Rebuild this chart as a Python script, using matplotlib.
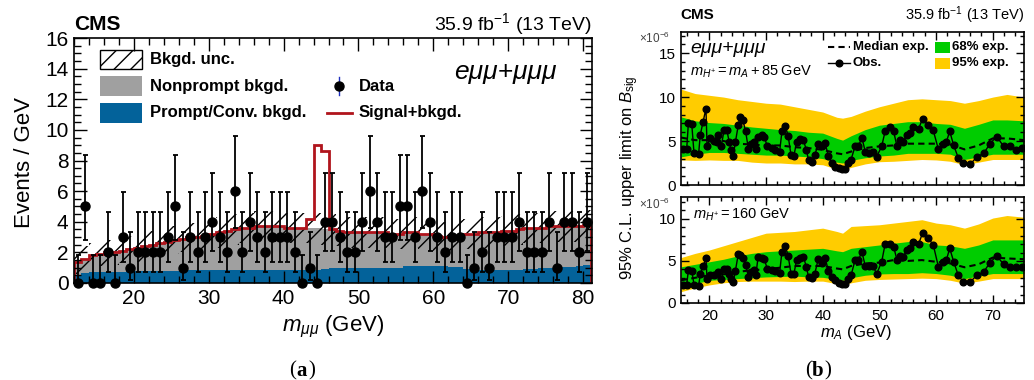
import numpy as np
import matplotlib
matplotlib.use('Agg')
import matplotlib.pyplot as plt
from matplotlib.patches import Rectangle
from matplotlib.lines import Line2D
from matplotlib.ticker import MultipleLocator

plt.rcParams['font.family'] = ['Liberation Sans', 'DejaVu Sans']
plt.rcParams['mathtext.fontset'] = 'custom'
plt.rcParams['mathtext.rm'] = 'Liberation Sans'
plt.rcParams['mathtext.it'] = 'Liberation Sans:italic'
plt.rcParams['mathtext.bf'] = 'Liberation Sans:bold'
plt.rcParams['hatch.linewidth'] = 1.0

###############################################################################
# Data (a): 1 GeV bins from 12 to 81
###############################################################################
bin_lo = list(range(12, 81))
bin_edges = bin_lo + [81]
prompt = [0.55, 0.65, 0.75, 0.75, 0.75, 0.75, 0.75, 0.78, 0.8, 0.8,
          0.8, 0.8, 0.8, 0.8, 0.8, 0.82, 0.82, 0.85, 0.85, 0.85,
          0.85, 0.85, 0.85, 0.85, 0.85, 0.85, 0.85, 0.85, 0.82, 0.82,
          0.85, 0.85, 0.85, 0.9, 0.95, 0.95, 0.95, 0.95, 0.95, 1.0,
          1.0, 1.0, 1.0, 1.0, 1.1, 1.1, 1.1, 1.1, 1.1, 1.1,
          1.05, 1.05, 0.9, 0.88, 0.85, 0.85, 0.85, 0.85, 0.88, 0.88,
          0.9, 0.9, 0.95, 1.0, 1.05, 1.05, 1.05, 1.1, 1.2]
bkg_total = [1.4, 1.6, 1.8, 1.9, 2.0, 2.0, 2.1, 2.2, 2.3, 2.4,
             2.5, 2.6, 2.7, 2.8, 2.9, 3.0, 3.0, 3.1, 3.2, 3.3,
             3.4, 3.5, 3.6, 3.6, 3.7, 3.7, 3.7, 3.7, 3.6, 3.6,
             3.6, 3.6, 3.6, 3.5, 3.5, 3.4, 3.3, 3.3, 3.3, 3.3,
             3.3, 3.3, 3.2, 3.2, 3.3, 3.3, 3.2, 3.2, 3.1, 3.0,
             3.0, 3.1, 3.2, 3.2, 3.3, 3.3, 3.3, 3.4, 3.4, 3.5,
             3.6, 3.6, 3.6, 3.7, 3.7, 3.7, 3.7, 3.7, 3.8]
bkg_unc = [0.8, 0.8, 0.8, 0.8, 0.8, 0.8, 0.8, 0.9, 0.9, 0.9,
           0.9, 0.9, 0.9, 0.9, 0.9, 0.9, 0.9, 1.0, 1.0, 1.0,
           1.0, 1.0, 1.0, 1.0, 1.0, 1.0, 1.0, 1.0, 1.0, 1.0,
           1.0, 1.0, 1.0, 1.0, 1.0, 1.0, 1.0, 1.0, 1.0, 1.0,
           1.0, 1.0, 1.0, 1.0, 1.0, 1.0, 1.0, 1.0, 1.0, 1.0,
           1.0, 1.0, 1.0, 1.0, 1.0, 1.0, 1.0, 1.0, 1.0, 1.0,
           1.0, 1.0, 1.0, 1.0, 1.0, 1.0, 1.0, 1.0, 1.0]
signal = [0.0] * 31 + [0.6, 5.4, 5.1] + [0.0] * 35
data_counts = [0, 5, 0, 0, 2, 0, 3, 1, 2, 2,
               2, 2, 3, 5, 1, 3, 2, 3, 4, 3,
               2, 6, 2, 4, 3, 2, 3, 3, 3, 2,
               0, 1, 0, 4, 4, 3, 2, 2, 4, 6,
               4, 3, 3, 5, 5, 3, 6, 4, 3, 2,
               3, 3, 0, 1, 2, 1, 3, 3, 3, 4,
               2, 2, 2, 4, 1, 4, 4, 2, 4]
# Garwood 68% intervals by observed count
garwood_lo = {0: 0.0, 1: 0.17, 2: 0.71, 3: 1.37, 4: 2.09, 5: 2.84, 6: 3.62}
garwood_hi = {0: 1.84, 1: 3.30, 2: 4.64, 3: 5.92, 4: 7.16, 5: 8.38, 6: 9.58}

###############################################################################
# Data (b)
###############################################################################
m_obs = [15.4, 16.0, 16.3, 16.9, 17.3, 18.1, 18.4, 18.9, 19.4, 19.6,
         20.1, 20.8, 21.3, 21.6, 22.1, 22.6, 23.1, 23.5, 23.8, 24.2,
         24.6, 25.1, 25.4, 25.9, 26.4, 26.9, 27.4, 27.8, 28.2, 28.6,
         29.2, 29.7, 30.2, 31.0, 31.6, 32.4, 32.8, 33.4, 33.9, 34.4,
         34.9, 35.4, 36.0, 36.6, 37.1, 37.5, 38.1, 38.6, 39.2, 39.8,
         40.4, 41.0, 41.6, 42.2, 42.8, 43.4, 43.9, 44.5, 45.0, 45.7,
         46.3, 46.9, 47.5, 48.1, 48.9, 49.5, 50.4, 51.0, 51.8, 52.5,
         53.1, 53.6, 54.2, 54.8, 55.4, 56.0, 56.9, 57.6, 58.6, 59.5,
         60.4, 61.2, 61.8, 62.4, 63.1, 63.9, 64.8, 66.0, 67.2, 68.4,
         69.5, 70.7, 71.9, 73.1, 74.1, 75.1]
obs_top = [4.05, 4.05, 7.0, 6.9, 3.6, 3.5, 5.7, 7.2, 8.7, 4.4,
           5.3, 5.0, 4.9, 5.7, 4.4, 6.25, 6.2, 4.9, 4.0, 3.3,
           4.9, 6.8, 7.75, 7.4, 6.1, 4.05, 4.7, 4.9, 4.05, 5.5,
           5.7, 5.5, 4.4, 4.2, 4.0, 3.8, 6.1, 6.7, 5.6, 3.4,
           3.3, 4.9, 5.2, 5.1, 4.0, 2.85, 2.65, 3.4, 4.7, 4.4,
           4.8, 3.3, 2.5, 2.1, 1.9, 1.8, 1.8, 2.5, 2.9, 4.4,
           4.4, 5.4, 3.8, 3.6, 3.8, 3.2, 4.4, 6.1, 6.55, 6.1,
           4.4, 5.1, 4.9, 5.7, 5.9, 6.6, 6.4, 7.5, 6.8, 6.2,
           4.05, 4.7, 4.9, 6.1, 4.5, 3.1, 2.5, 2.35, 3.2, 3.6,
           4.7, 5.5, 4.4, 4.4, 4.0, 4.2]
obs_bot = [2.15, 2.15, 3.9, 3.85, 2.15, 2.0, 3.45, 4.4, 5.3, 2.8,
           3.3, 3.3, 3.4, 3.7, 2.8, 4.1, 4.0, 3.5, 2.9, 2.5,
           3.85, 5.8, 5.7, 5.3, 4.5, 3.1, 3.7, 3.9, 3.3, 5.5,
           5.4, 5.2, 4.1, 3.9, 3.85, 3.6, 6.1, 6.8, 5.6, 3.5,
           3.45, 5.1, 5.4, 5.5, 4.3, 3.1, 3.0, 3.5, 5.2, 4.8,
           5.4, 3.85, 3.1, 2.7, 2.35, 2.25, 2.25, 2.8, 3.3, 5.1,
           5.1, 6.1, 4.4, 4.4, 4.4, 3.45, 4.9, 7.0, 7.0, 6.7,
           5.1, 5.6, 5.5, 6.3, 6.5, 7.2, 7.0, 8.3, 7.7, 6.9,
           4.3, 4.9, 5.1, 6.5, 4.9, 3.3, 2.5, 2.5, 3.3, 3.7,
           4.8, 5.6, 4.6, 4.3, 4.25, 4.3]
m_band = [15, 17.5, 20, 22.5, 25, 27.5, 30, 32.5, 35, 37.5, 40, 42.5, 43.5,
          45, 47.5, 50, 52.5, 55, 57.5, 60, 62.5, 65, 67.5, 70, 72.5, 75.5]
exp_top = [5.4, 5.1, 5.1, 5.0, 4.7, 4.6, 4.5, 4.5, 4.3, 4.2, 4.0, 3.6, 3.5,
           3.8, 4.2, 4.4, 4.5, 4.7, 4.7, 4.7, 4.6, 4.05, 4.5, 5.3, 5.3, 5.1]
s1_hi_top = [7.75, 7.3, 7.1, 7.0, 6.8, 6.6, 6.45, 6.3, 6.2, 6.0, 5.9, 5.3, 5.1,
             5.6, 6.3, 6.8, 7.0, 7.2, 7.2, 7.0, 6.9, 6.45, 6.9, 7.4, 7.4, 7.3]
s1_lo_top = [3.2, 3.5, 3.7, 3.7, 3.6, 3.5, 3.4, 3.4, 3.3, 3.2, 3.0, 2.6, 2.5,
             2.8, 3.1, 3.3, 3.4, 3.6, 3.6, 3.6, 3.5, 2.9, 3.2, 3.5, 3.5, 3.5]
s2_hi_top = [10.9, 10.4, 10.2, 10.0, 9.7, 9.5, 9.3, 9.2, 8.9, 8.6, 8.3, 7.7, 7.6,
             7.8, 8.4, 8.9, 9.3, 9.7, 9.8, 9.7, 9.6, 9.3, 9.6, 10.0, 10.3, 10.0]
s2_lo_top = [2.85, 2.8, 2.85, 2.8, 2.8, 2.6, 2.5, 2.5, 2.4, 2.4, 2.3, 1.8, 1.7,
             2.0, 2.4, 2.65, 2.7, 2.8, 2.9, 2.85, 2.7, 2.3, 2.6, 2.9, 2.9, 2.9]
exp_bot = [2.7, 3.0, 3.3, 3.4, 3.7, 3.9, 4.0, 4.2, 4.4, 4.4, 4.4, 4.1, 4.0,
           4.4, 4.7, 4.8, 5.1, 5.0, 5.1, 4.9, 4.7, 4.25, 4.6, 5.4, 5.3, 5.2]
s1_hi_bot = [4.3, 4.6, 4.9, 5.2, 5.6, 5.9, 6.1, 6.2, 6.3, 6.4, 6.5, 6.2, 6.1,
             6.5, 6.7, 6.9, 7.1, 7.3, 7.3, 6.9, 6.8, 6.5, 6.9, 7.5, 7.5, 7.5]
s1_lo_bot = [1.85, 2.3, 2.7, 2.8, 2.9, 3.0, 3.1, 3.15, 3.2, 3.1, 3.05, 2.8, 2.7,
             3.0, 3.3, 3.45, 3.5, 3.5, 3.6, 3.5, 3.3, 2.9, 3.2, 3.5, 3.5, 3.5]
s2_hi_bot = [5.4, 5.9, 6.3, 6.8, 7.3, 7.8, 8.3, 8.4, 8.5, 8.7, 8.9, 8.5, 8.3,
             9.1, 9.2, 9.3, 9.5, 9.7, 9.9, 9.5, 9.3, 8.9, 9.4, 10.1, 10.4, 10.2]
s2_lo_bot = [1.35, 1.8, 2.15, 2.4, 2.55, 2.6, 2.6, 2.6, 2.55, 2.6, 2.6, 2.3, 2.15,
             2.4, 2.7, 2.8, 2.85, 2.9, 2.95, 2.9, 2.7, 2.35, 2.6, 2.9, 2.9, 2.9]

###############################################################################
# Style
###############################################################################
C_BLUE, C_GRAY, C_RED = '#03629a', '#a0a0a0', '#b0141c'
C_GREEN, C_YELLOW = '#00cc00', '#ffcc00'

fig = plt.figure(figsize=(10.34, 3.8), dpi=100)


def style_axes(ax, fs, major_len, minor_len):
    ax.tick_params(which='both', direction='in', top=True, right=True,
                   labelsize=fs, width=1.0, pad=4)
    ax.tick_params(which='major', length=major_len)
    ax.tick_params(which='minor', length=minor_len)
    for sp in ax.spines.values():
        sp.set_linewidth(1.2)


###############################################################################
# Panel (a)
###############################################################################
axa = fig.add_axes([74/1034, 1-283/380, 518/1034, 245/380])
bkg = np.array(bkg_total)
unc = np.array(bkg_unc)
axa.stairs(prompt, bin_edges, fill=True, color=C_BLUE, lw=0)
axa.stairs(bkg, bin_edges, baseline=prompt, fill=True, color=C_GRAY, lw=0)
axa.stairs(bkg + unc, bin_edges, baseline=np.clip(bkg - unc, 0, None),
           fill=True, facecolor='none', edgecolor='black', hatch='//', lw=0)
axa.stairs(bkg + np.array(signal), bin_edges, color=C_RED, lw=2.0)
x_data = np.array(bin_lo) + 0.5
y_data = np.array(data_counts, dtype=float)
err_lo = [c - garwood_lo[c] for c in data_counts]
err_hi = [garwood_hi[c] - c for c in data_counts]
axa.errorbar(x_data, y_data, yerr=[err_lo, err_hi], fmt='o', color='black',
             ms=6.5, elinewidth=1.3, capsize=1.8, capthick=1.3, clip_on=False,
             zorder=5)
axa.set_xlim(12, 81.2)
axa.set_ylim(0, 16)
axa.xaxis.set_major_locator(MultipleLocator(10))
axa.xaxis.set_minor_locator(MultipleLocator(2))
axa.yaxis.set_major_locator(MultipleLocator(2))
axa.yaxis.set_minor_locator(MultipleLocator(0.5))
style_axes(axa, 15, 9, 5)

# legend (a)
rows = [0.914, 0.804, 0.694]
sw_kw = dict(transform=axa.transAxes, clip_on=False)
axa.add_patch(Rectangle((0.050, rows[0]-0.039), 0.081, 0.078, facecolor='white',
                        edgecolor='black', hatch='//', lw=1.0, **sw_kw))
axa.add_patch(Rectangle((0.050, rows[1]-0.039), 0.081, 0.078, facecolor=C_GRAY,
                        lw=0, **sw_kw))
axa.add_patch(Rectangle((0.050, rows[2]-0.039), 0.081, 0.078, facecolor=C_BLUE,
                        lw=0, **sw_kw))
for (lbl, yy) in zip(['Bkgd. unc.', 'Nonprompt bkgd.', 'Prompt/Conv. bkgd.'], rows):
    axa.text(0.147, yy, lbl, transform=axa.transAxes, ha='left', va='center',
             fontsize=12, fontweight='bold')
axa.add_line(Line2D([0.512, 0.512], [rows[1]-0.035, rows[1]+0.035],
                    color='#2030c0', lw=1.0, transform=axa.transAxes))
axa.add_line(Line2D([0.512], [rows[1]], marker='o', ms=6.5, color='black',
                    transform=axa.transAxes))
axa.add_line(Line2D([0.488, 0.537], [rows[2], rows[2]], color=C_RED, lw=2.0,
                    transform=axa.transAxes))
axa.text(0.550, rows[1], 'Data', transform=axa.transAxes, ha='left',
         va='center', fontsize=12, fontweight='bold')
axa.text(0.550, rows[2], 'Signal+bkgd.', transform=axa.transAxes, ha='left',
         va='center', fontsize=12, fontweight='bold')
axa.text(0.932, 0.861, 'eμμ+μμμ', transform=axa.transAxes, ha='right',
         va='center', fontsize=19, style='italic')

fig.text(74/1034, 1-24/380, 'CMS', ha='left', va='center', fontsize=15,
         fontweight='bold')
fig.text(592/1034, 1-24/380, r'35.9 fb$^{-1}$ (13 TeV)', ha='right',
         va='center', fontsize=14)
fig.text(25/1034, 1-162/380, 'Events / GeV', rotation=90, ha='center',
         va='center', fontsize=16)
fig.text(333/1034, 1-327/380, r'$m_{\mu\mu}$ (GeV)', ha='center',
         va='center', fontsize=16)

###############################################################################
# Panel (b)
###############################################################################
axt = fig.add_axes([681/1034, 1-185/380, 343/1034, 153/380])
axb = fig.add_axes([681/1034, 1-303/380, 343/1034, 106/380])
panels = [
    (axt, exp_top, s1_lo_top, s1_hi_top, s2_lo_top, s2_hi_top, obs_top, 17.4),
    (axb, exp_bot, s1_lo_bot, s1_hi_bot, s2_lo_bot, s2_hi_bot, obs_bot, 12.6),
]
for (ax, med, g_lo, g_hi, y_lo, y_hi, obs, ytop) in panels:
    ax.fill_between(m_band, y_lo, y_hi, color=C_YELLOW, lw=0)
    ax.fill_between(m_band, g_lo, g_hi, color=C_GREEN, lw=0)
    ax.plot(m_band, med, color='black', lw=1.5, ls=(0, (3, 2)))
    ax.plot(m_obs, obs, color='black', lw=1.0, marker='o', ms=4.8)
    ax.set_xlim(15, 75.5)
    ax.set_ylim(0, ytop)
    ax.xaxis.set_major_locator(MultipleLocator(10))
    ax.xaxis.set_minor_locator(MultipleLocator(2))
    ax.yaxis.set_major_locator(MultipleLocator(5))
    ax.yaxis.set_minor_locator(MultipleLocator(1))
    style_axes(ax, 11, 6, 3)
axt.tick_params(labelbottom=False)

fig.text(654/1034, 1-38/380, r'$\times10^{-6}$', ha='center', va='center',
         fontsize=8.5, color='#444444')
fig.text(654/1034, 1-204/380, r'$\times10^{-6}$', ha='center', va='center',
         fontsize=8.5, color='#444444')

# legend (b)
axt.add_line(Line2D([0.429, 0.493], [0.902, 0.902], color='black', lw=1.5,
                    ls=(0, (3, 2)), transform=axt.transAxes))
axt.add_line(Line2D([0.429, 0.493], [0.797, 0.797], color='black', lw=1.0,
                    transform=axt.transAxes))
axt.add_line(Line2D([0.461], [0.797], marker='o', ms=4.8, color='black',
                    transform=axt.transAxes))
axt.text(0.501, 0.902, 'Median exp.', transform=axt.transAxes, ha='left',
         va='center', fontsize=9.5, fontweight='bold')
axt.text(0.501, 0.797, 'Obs.', transform=axt.transAxes, ha='left',
         va='center', fontsize=9.5, fontweight='bold')
axt.add_patch(Rectangle((0.740, 0.862), 0.044, 0.074, facecolor=C_GREEN, lw=0,
                        transform=axt.transAxes))
axt.add_patch(Rectangle((0.740, 0.757), 0.044, 0.074, facecolor=C_YELLOW, lw=0,
                        transform=axt.transAxes))
axt.text(0.790, 0.902, '68% exp.', transform=axt.transAxes, ha='left',
         va='center', fontsize=9.5, fontweight='bold')
axt.text(0.790, 0.797, '95% exp.', transform=axt.transAxes, ha='left',
         va='center', fontsize=9.5, fontweight='bold')
axt.text(0.026, 0.895, 'eμμ+μμμ', transform=axt.transAxes, ha='left',
         va='center', fontsize=14, style='italic')
axt.text(0.026, 0.739, r'$m_{H^{+}}=m_{A}+85\;\mathrm{GeV}$',
         transform=axt.transAxes, ha='left', va='center', fontsize=10.5)
axb.text(0.035, 0.83, r'$m_{H^{+}}=160\;\mathrm{GeV}$',
         transform=axb.transAxes, ha='left', va='center', fontsize=10.5)

fig.text(680/1034, 1-15/380, 'CMS', ha='left', va='center', fontsize=11,
         fontweight='bold')
fig.text(1024/1034, 1-15/380, r'35.9 fb$^{-1}$ (13 TeV)', ha='right',
         va='center', fontsize=10.5)
fig.text(630/1034, 1-178/380, r'95% C.L. upper limit on $B_{\mathrm{sig}}$',
         rotation=90, ha='center', va='center', fontsize=12)
fig.text(856/1034, 1-333/380, r'$m_{A}$ (GeV)', ha='center', va='center',
         fontsize=12)

# sub-figure captions
for (xc, let) in [(302, 'a'), (818, 'b')]:
    fig.text(xc/1034, 1-371/380, let, ha='center', va='center', fontsize=15,
             fontweight='bold', family='Liberation Serif')
    fig.text((xc-6)/1034, 1-371/380, '(', ha='right', va='center',
             fontsize=15, family='Liberation Serif')
    fig.text((xc+6)/1034, 1-371/380, ')', ha='left', va='center',
             fontsize=15, family='Liberation Serif')

fig.savefig('out.png', dpi=100, facecolor='white')
